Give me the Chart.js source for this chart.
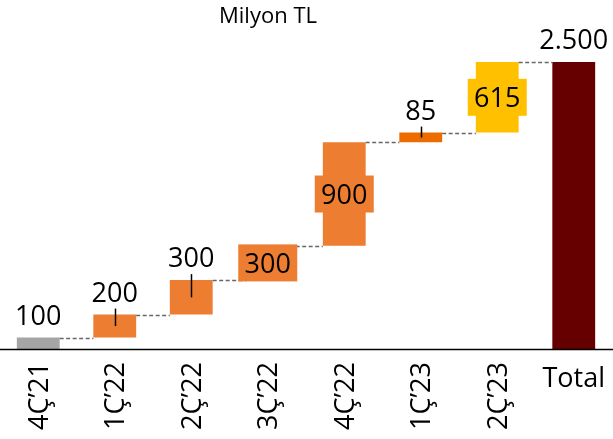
<!DOCTYPE html>
<html>
<head>
<meta charset="utf-8">
<script src="https://cdn.jsdelivr.net/npm/chart.js@4/dist/chart.umd.min.js"></script>
<style>
  html, body { margin: 0; padding: 0; background: #fff; }
  canvas { display: block; }
</style>
</head>
<body>
<canvas id="c" width="613" height="439"></canvas>
<script>
// ---- data ----
const categories = ['4Ç’21', '1Ç’22', '2Ç’22', '3Ç’22', '4Ç’22', '1Ç’23', '2Ç’23', 'Total'];
const changes = [100, 200, 300, 300, 900, 85, 615];
const total = 2500;
const valueLabels = ['100', '200', '300', '300', '900', '85', '615', '2.500'];
const titleText = 'Milyon TL';

// ---- styles ----
const barColors = ['#A5A5A5', '#ED7D31', '#ED7D31', '#ED7D31', '#ED7D31', '#EC6C00', '#FFC000', '#660000'];
const labelModes = ['above', 'leader', 'leader', 'inside', 'inside', 'leader', 'inside', 'above'];
const FONT = '"Open Sans", "Noto Sans", sans-serif';

// build floating ranges from the values
let run = 0;
const ranges = changes.map(v => { const s = run; run += v; return [s, run]; });
ranges.push([0, total]);

const waterfallPlugin = {
  id: 'waterfall',
  afterDatasetsDraw(chart) {
    const ctx = chart.ctx;
    const meta = chart.getDatasetMeta(0);
    const ys = chart.scales.y;
    const els = meta.data;

    // connectors
    ctx.save();
    ctx.setLineDash([4, 2.5]);
    ctx.strokeStyle = '#666666';
    ctx.lineWidth = 1.4;
    for (let i = 0; i < els.length - 1; i++) {
      const y = Math.round(ys.getPixelForValue(ranges[i][1])) + 0.5;
      const x1 = els[i].x + els[i].width / 2;
      const x2 = els[i + 1].x - els[i + 1].width / 2;
      ctx.beginPath();
      ctx.moveTo(x1, y);
      ctx.lineTo(x2, y);
      ctx.stroke();
    }
    ctx.restore();

    // axis line
    const y0 = ys.getPixelForValue(0);
    ctx.save();
    ctx.strokeStyle = '#000';
    ctx.lineWidth = 1.5;
    ctx.beginPath();
    ctx.moveTo(0, y0 + 0.5);
    ctx.lineTo(chart.width, y0 + 0.5);
    ctx.stroke();
    ctx.restore();

    // value labels
    ctx.save();
    ctx.font = '27px ' + FONT;
    ctx.fillStyle = '#000';
    ctx.textAlign = 'center';
    ctx.textBaseline = 'alphabetic';
    els.forEach((el, i) => {
      const top = Math.min(el.y, el.base);
      const bot = Math.max(el.y, el.base);
      const mode = labelModes[i];
      if (mode === 'inside') {
        const cy = (top + bot) / 2;
        const bw = 59, bh = 37;
        ctx.fillStyle = barColors[i];
        ctx.fillRect(el.x - bw / 2, cy - bh / 2, bw, bh);
        ctx.fillStyle = '#000';
        ctx.fillText(valueLabels[i], el.x, cy + 9.8);
      } else {
        ctx.fillStyle = '#000';
        ctx.fillText(valueLabels[i], el.x, top - 13);
        if (mode === 'leader') {
          ctx.save();
          ctx.strokeStyle = '#000';
          ctx.lineWidth = 1.5;
          ctx.beginPath();
          ctx.moveTo(Math.round(el.x) + 0.5, top - 6);
          ctx.lineTo(Math.round(el.x) + 0.5, (top + bot) / 2);
          ctx.stroke();
          ctx.restore();
        }
      }
    });
    ctx.restore();

    // category labels
    ctx.save();
    ctx.font = '27px ' + FONT;
    ctx.fillStyle = '#000';
    const xs = chart.scales.x;
    categories.forEach((c, i) => {
      const x = xs.getPixelForValue(i);
      if (c === 'Total') {
        ctx.textAlign = 'center';
        ctx.textBaseline = 'alphabetic';
        ctx.fillText(c, x, 387);
      } else {
        ctx.save();
        ctx.translate(x, y0 + 13);
        ctx.rotate(-Math.PI / 2);
        ctx.textAlign = 'right';
        ctx.textBaseline = 'alphabetic';
        ctx.fillText(c, 0, 9.6);
        ctx.restore();
      }
    });
    ctx.restore();

    // title
    ctx.save();
    ctx.font = '22px ' + FONT;
    ctx.fillStyle = '#000';
    ctx.textAlign = 'center';
    ctx.textBaseline = 'alphabetic';
    ctx.fillText(titleText, 268, 23);
    ctx.restore();
  }
};

new Chart(document.getElementById('c'), {
  type: 'bar',
  data: {
    labels: categories,
    datasets: [{
      data: ranges,
      backgroundColor: barColors,
      borderWidth: 0,
      borderSkipped: false,
      barPercentage: 0.56,
      categoryPercentage: 1.0
    }]
  },
  options: {
    responsive: false,
    animation: false,
    layout: { padding: { top: 62, bottom: 90, left: -1, right: 1 } },
    plugins: {
      legend: { display: false },
      tooltip: { enabled: false },
      title: { display: false }
    },
    scales: {
      x: { display: false, offset: true },
      y: { display: false, min: 0, max: 2500 }
    }
  },
  plugins: [waterfallPlugin]
});
</script>
</body>
</html>
